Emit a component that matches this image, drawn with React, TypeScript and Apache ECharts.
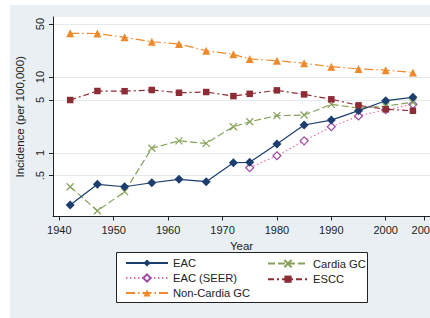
import React, { useEffect, useRef } from "react";
import * as echarts from "echarts";

const years = [1942, 1947, 1952, 1957, 1962, 1967, 1972, 1975, 1980, 1985, 1990, 1995, 2000, 2005];
const eac = [0.205, 0.384, 0.357, 0.403, 0.447, 0.416, 0.74, 0.75, 1.31, 2.33, 2.7, 3.6, 4.87, 5.4];
const cardiaGC = [0.357, 0.172, 0.307, 1.15, 1.44, 1.33, 2.21, 2.57, 3.09, 3.15, 4.36, 3.9, 4.14, 4.64];
const seerYears = [1975, 1980, 1985, 1990, 1995, 2000, 2005];
const eacSeer = [0.636, 0.915, 1.44, 2.21, 3.06, 3.7, 4.36];
const escc = [4.97, 6.54, 6.5, 6.74, 6.2, 6.34, 5.6, 6.0, 6.67, 5.9, 5.08, 4.23, 3.75, 3.59];
const nonCardiaGC = [37.7, 37.5, 33.4, 29.2, 27.3, 22.2, 19.9, 17.3, 16.4, 15.2, 13.7, 12.8, 12.3, 11.5];

const xTicks = [1940, 1950, 1960, 1970, 1980, 1990, 2000, 2007];
const yTicks = [0.5, 1, 5, 10, 50];
const yTickLabels = [".5", "1", "5", "10", "50"];

const FONT = "'Liberation Sans', Arial, sans-serif";

const pairs = (xs: number[], ys: number[]) => xs.map((x, i) => [x, ys[i]]);

export default function App() {
  const ref = useRef<HTMLDivElement>(null);
  useEffect(() => {
    if (!ref.current) return;
    const chart = echarts.init(ref.current, null, { renderer: "svg" });
    const navy = "#1b3e6f";
    const green = "#86a25a";
    const pink = "#f2709f";
    const purple = "#a04aa8";
    const maroon = "#8e2c36";
    const orange = "#ee8a2c";
    const baseSeries = (name: string, data: number[][], color: string, lineType: any, symbol: string, size: number, itemStyle: any, z: number) => ({
      name,
      type: "line",
      data,
      symbol,
      symbolSize: size,
      showSymbol: true,
      lineStyle: { color, width: 1.2, type: lineType },
      itemStyle,
      z,
      emphasis: { disabled: true },
    });
    chart.setOption({
      animation: false,
      backgroundColor: "transparent",
      textStyle: { fontFamily: FONT },
      graphic: [
        { type: "rect", shape: { x: 10, y: 5, width: 420, height: 313 }, style: { fill: "#e9eff2" }, z: -10, silent: true },
        { type: "rect", shape: { x: 116.5, y: 252.5, width: 251, height: 50 }, style: { fill: "#ffffff", stroke: "#222", lineWidth: 1 }, z: 1, silent: true },
      ],
      grid: {
        left: 53,
        top: 17,
        right: 0,
        bottom: 101.5,
        show: true,
        backgroundColor: "#ffffff",
        borderWidth: 0,
        containLabel: false,
        outerBoundsMode: "none",
      },
      xAxis: {
        type: "value",
        min: 1938.84,
        max: 2008.14,
        name: "Year",
        nameLocation: "middle",
        nameGap: 13.5,
        nameTextStyle: { fontFamily: FONT, fontSize: 11.5, color: "#222" },
        axisLine: { show: true, onZero: false, lineStyle: { color: "#222", width: 1 } },
        axisTick: { show: true, length: 4, inside: false, customValues: xTicks, lineStyle: { color: "#222" } },
        axisLabel: { customValues: xTicks, fontFamily: FONT, fontSize: 11, color: "#222", margin: 8, hideOverlap: false, formatter: (v: number) => String(v) },
        splitLine: { show: false },
      },
      yAxis: {
        type: "log",
        logBase: 10,
        min: 0.1445,
        max: 61.9,
        name: "Incidence (per 100,000)",
        nameLocation: "middle",
        nameGap: 18,
        nameTextStyle: { fontFamily: FONT, fontSize: 11.5, color: "#222" },
        axisLine: { show: true, onZero: false, lineStyle: { color: "#222", width: 1 } },
        axisTick: { show: true, length: 4, inside: false, customValues: yTicks, lineStyle: { color: "#222" } },
        axisLabel: {
          customValues: yTicks,
          rotate: 90,
          fontFamily: FONT,
          fontSize: 11,
          color: "#222",
          margin: 8,
          formatter: (v: number) => {
            const i = yTicks.findIndex((t) => Math.abs(t - v) < 1e-6 * Math.max(1, t));
            return i >= 0 ? yTickLabels[i] : String(v);
          },
        },
        splitLine: { show: true, lineStyle: { color: "#e3ebee", width: 1 } },
        minorTick: { show: false },
      },
      legend: [
        {
          data: ["EAC", "EAC (SEER)", "Non-Cardia GC"],
          orient: "vertical",
          left: 120,
          top: 252.5,
          itemWidth: 42,
          itemHeight: 9,
          itemGap: 4,
          textStyle: { fontFamily: FONT, fontSize: 11.2, color: "#222" },
          selectedMode: false,
          z: 5,
        },
        {
          data: ["Cardia GC", "ESCC"],
          orient: "vertical",
          left: 262,
          top: 252.5,
          itemWidth: 40,
          itemHeight: 9,
          itemGap: 4,
          textStyle: { fontFamily: FONT, fontSize: 11.2, color: "#222" },
          selectedMode: false,
          z: 5,
        },
      ],
      series: [
        baseSeries("EAC", pairs(years, eac), navy, "solid", "diamond", 9, { color: navy }, 5),
        baseSeries("Cardia GC", pairs(years, cardiaGC), green, [7, 3], "path://M0,0L10,10M10,0L0,10", 7, { color: "none", borderColor: green, borderWidth: 1.2 }, 4),
        baseSeries("EAC (SEER)", pairs(seerYears, eacSeer), pink, [1.5, 2.5], "diamond", 8, { color: "#ffffff", borderColor: purple, borderWidth: 1.2 }, 3),
        baseSeries("ESCC", pairs(years, escc), maroon, [6, 3, 2, 3], "rect", 6.5, { color: maroon }, 6),
        baseSeries("Non-Cardia GC", pairs(years, nonCardiaGC), orange, [9, 3, 1.5, 3], "triangle", 8, { color: orange }, 2),
      ],
    });
    return () => chart.dispose();
  }, []);
  return (
    <div
      ref={ref}
      style={{ position: "fixed", left: 0, top: 0, width: 430, height: 318, background: "#ffffff" }}
    />
  );
}
